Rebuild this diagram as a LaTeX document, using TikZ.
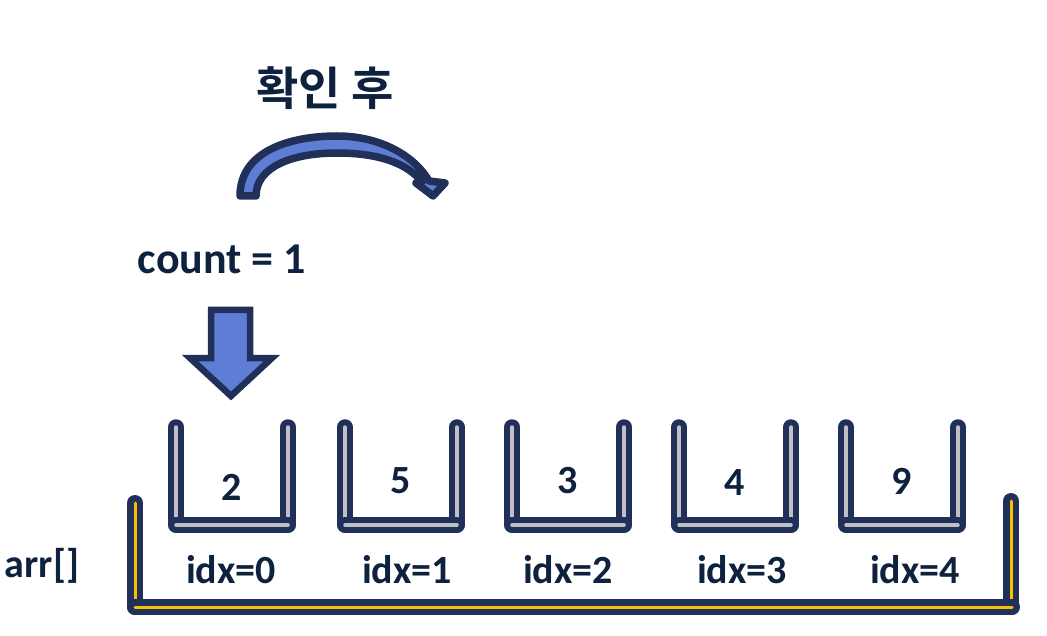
\documentclass[tikz,border=0pt]{standalone}
\usepackage{fontspec}
\setmainfont{Carlito}
\newfontfamily\krfont[BoldFont={Noto Sans CJK KR Bold}]{Noto Sans CJK KR}
\usepackage{tikz}

\definecolor{navy}{RGB}{33,48,88}
\definecolor{inktext}{RGB}{14,34,64}
\definecolor{arrowblue}{RGB}{94,126,214}
\definecolor{trayyellow}{RGB}{250,190,0}
\definecolor{slotgray}{RGB}{192,192,198}

\tikzset{
  slot/.style={draw=navy, line width=6pt, double=slotgray, double distance=3.5pt, line cap=round},
  tray/.style={draw=navy, line width=6.5pt, double=trayyellow, double distance=3pt, line cap=round},
  bigtext/.style={text=inktext, inner sep=0pt, font=\bfseries\fontsize{40}{48}\selectfont},
}

\begin{document}
\begin{tikzpicture}[x=1pt, y=-1pt]
  \useasboundingbox (0,0) rectangle (1047,636);

  % title and counter
  \node[bigtext, font=\krfont\bfseries\fontsize{46}{52}\selectfont] (check) at (325,88) {확인 후};
  \node[bigtext, font=\bfseries\fontsize{44}{52}\selectfont] (count) at (222,259) {count = 1};

  % curved arrow
  \draw[navy, line width=7.5pt, line join=round, fill=arrowblue]
    (240,196) .. controls (240,151) and (290,136) .. (337,136)
    .. controls (383,136) and (416,158) .. (429,181)
    -- (445,183) -- (433,196) -- (416,183) -- (422,182)
    .. controls (408,164) and (380,153) .. (337,153)
    .. controls (292,153) and (256,167) .. (256,196) -- cycle;

  % down arrow
  \draw[navy, line width=6.5pt, fill=arrowblue]
    (211,310) -- (250,310) -- (250,358) -- (272,358) -- (231,396)
    -- (190,358) -- (211,358) -- cycle;

  % array tray
  \draw[tray] (135,503) -- (135,607);
  \draw[tray] (1011,501) -- (1011,607);
  \draw[tray] (135,607) -- (1012,607);
  \node[bigtext] (arr) at (42,566) {arr[]};

  % slots
  \foreach \x/\v/\vy/\lx [count=\i from 0] in {232/2/487/231, 401/5/481/407, 568/3/481/568, 735/4/483/742, 902/9/481/915} {
    \draw[slot] (\x-56,427) -- (\x-56,525);
    \draw[slot] (\x+56,427) -- (\x+56,525);
    \draw[slot] (\x-56,525) -- (\x+56,525);
    \node[bigtext] (val\i) at (\x,\vy) {\v};
    \node[bigtext] (idx\i) at (\lx,570) {idx=\i};
  }
\end{tikzpicture}
\end{document}
